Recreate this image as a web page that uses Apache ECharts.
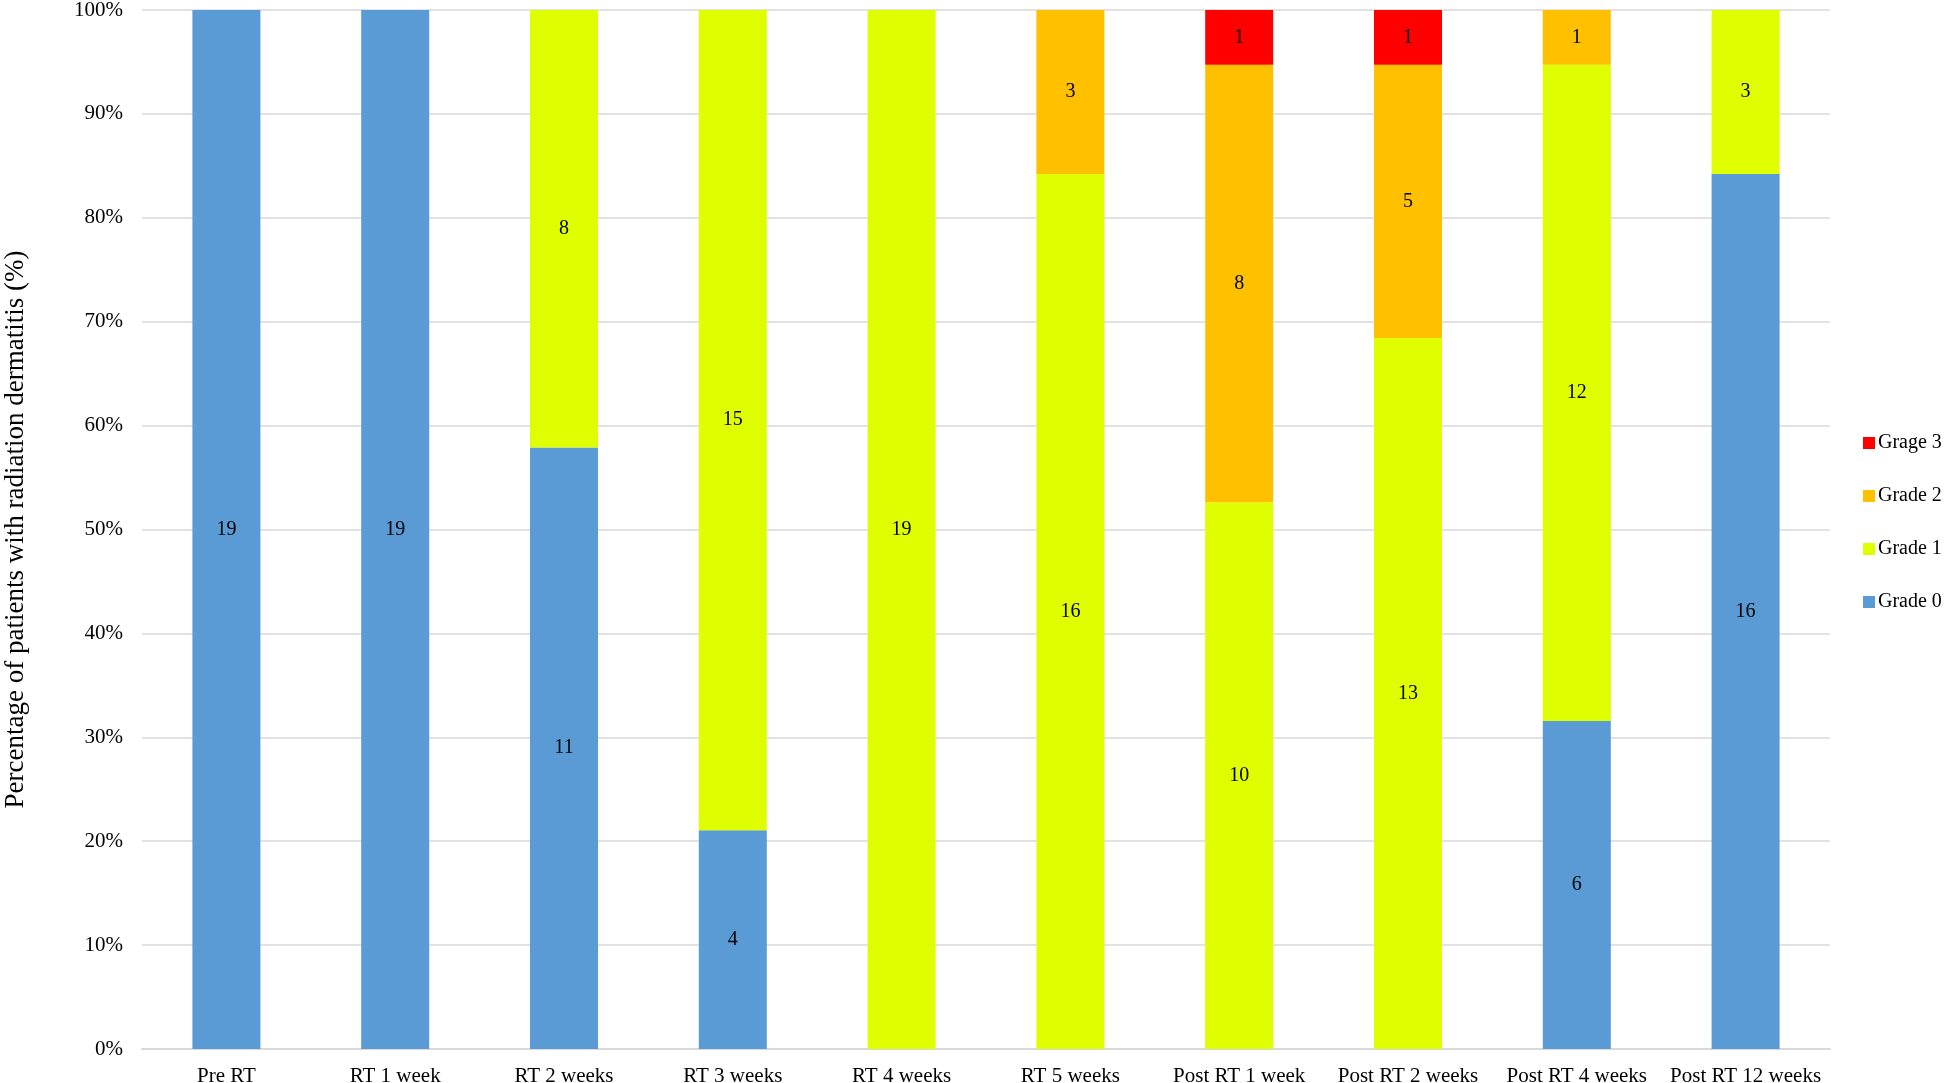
<!DOCTYPE html>
<html><head><meta charset="utf-8">
<script src="https://cdn.jsdelivr.net/npm/echarts@6/dist/echarts.min.js"></script>
<style>html,body{margin:0;padding:0;background:#fff}#c{width:1946px;height:1083px}</style>
</head><body><div id="c"></div>
<script>
const categories = ['Pre RT','RT 1 week','RT 2 weeks','RT 3 weeks','RT 4 weeks','RT 5 weeks','Post RT 1 week','Post RT 2 weeks','Post RT 4 weeks','Post RT 12 weeks'];
const grade0 = [19,19,11,4,0,0,0,0,6,16];
const grade1 = [0,0,8,15,19,16,10,13,12,3];
const grade2 = [0,0,0,0,0,3,8,5,1,0];
const grade3 = [0,0,0,0,0,0,1,1,0,0];
const yTicks = [0,10,20,30,40,50,60,70,80,90,100];

const totals = categories.map((_, i) => grade0[i] + grade1[i] + grade2[i] + grade3[i]);
const font = 'Liberation Serif';
function mk(name, arr, color) {
  return {
    name, type: 'bar', stack: 'all', barWidth: 68,
    itemStyle: { color },
    label: {
      show: true, position: 'inside', color: '#000', fontFamily: font, fontSize: 20,
      formatter: p => arr[p.dataIndex] > 0 ? String(arr[p.dataIndex]) : ''
    },
    data: arr.map((v, i) => v > 0 ? v / totals[i] * 100 : null)
  };
}
const chart = echarts.init(document.getElementById('c'));
chart.setOption({
  animation: false,
  grid: { left: 142, right: 116, top: 10, bottom: 34, containLabel: false, outerBoundsMode: 'none' },
  legend: {
    orient: 'vertical', left: 1863, top: 433, itemGap: 33, itemWidth: 12, itemHeight: 12,
    icon: 'rect', padding: 0,
    data: ['Grage 3', 'Grade 2', 'Grade 1', 'Grade 0'],
    textStyle: { fontFamily: font, fontSize: 20, color: '#000', padding: [0, 0, 0, -2] }
  },
  xAxis: {
    type: 'category', data: categories,
    axisLine: { lineStyle: { color: '#d9d9d9', width: 2 } },
    axisTick: { show: false },
    axisLabel: { fontFamily: font, fontSize: 21, color: '#000', margin: 17, interval: 0 }
  },
  yAxis: {
    type: 'value', min: 0, max: 100, interval: 10,
    name: 'Percentage of patients with radiation dermatitis (%)',
    nameLocation: 'middle', nameGap: 113,
    nameTextStyle: { fontFamily: font, fontSize: 27, color: '#000' },
    axisLine: { show: false }, axisTick: { show: false },
    splitLine: { lineStyle: { color: '#d9d9d9', width: 1.5 } },
    axisLabel: { fontFamily: font, fontSize: 21, color: '#000', margin: 19,
      formatter: v => yTicks.includes(v) ? v + '%' : '' }
  },
  series: [
    mk('Grade 0', grade0, '#5B9BD5'),
    mk('Grade 1', grade1, '#DFFF00'),
    mk('Grade 2', grade2, '#FFC000'),
    mk('Grage 3', grade3, '#FF0000')
  ]
});
</script></body></html>
